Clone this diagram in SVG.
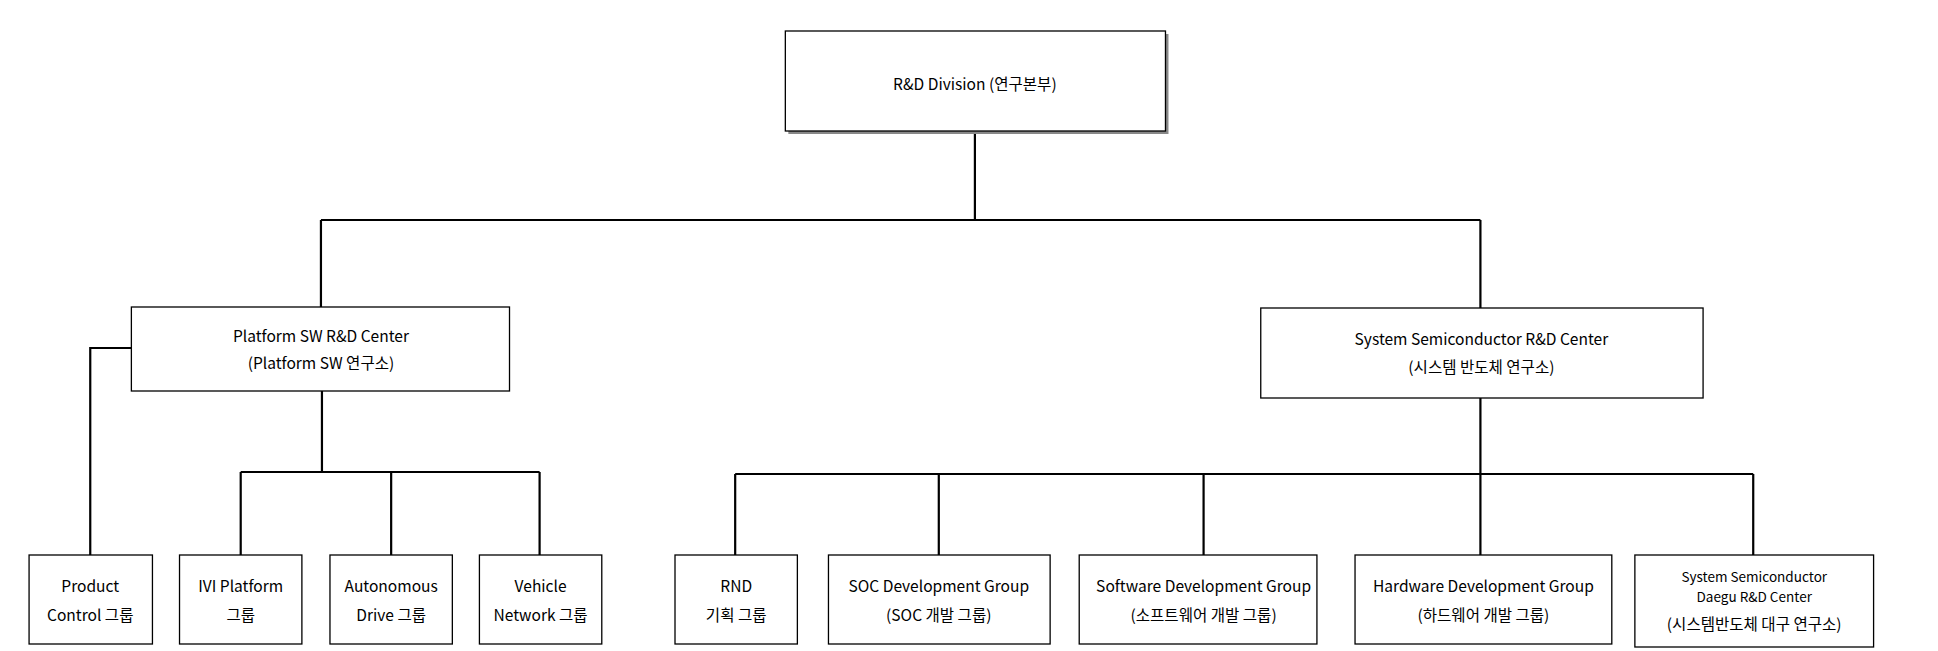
<svg xmlns="http://www.w3.org/2000/svg" width="1938" height="651" viewBox="0 0 1938 651">
<style>
.b{fill:#fff;stroke:#000;stroke-width:1.3}
.t{font-family:"Noto Sans CJK KR","Liberation Sans",sans-serif;font-size:15.5px;fill:#000;text-anchor:middle}
.s{font-size:13.5px}
.c{fill:none;stroke:#000;stroke-width:2.2}
</style>
<rect width="1938" height="651" fill="#fff"/>
<g transform="translate(5,0) scale(1.003,1)">
<g id="connectors">
<path class="c" d="M967 131V220M315 220H1471M315 220V307M1471 220V308"/>
<path class="c" d="M316 391V472M235 472H533M235 472V555M385 472V555M533 472V555M126 348H85V555"/>
<path class="c" d="M1471 398V474M728 474H1743M728 474V555M931 474V555M1195 474V555M1471 474V555M1743 474V555"/>
</g>
<g id="n-root"><rect x="781" y="34" width="379" height="100" fill="#888"/><rect class="b" x="778" y="31" width="379" height="100"/><text class="t" x="967" y="90">R&amp;D Division (연구본부)</text></g>
<g id="n-platform"><rect class="b" x="126" y="307" width="377" height="84"/><text class="t" x="315" y="342">Platform SW R&amp;D Center</text><text class="t" x="315" y="369">(Platform SW 연구소)</text></g>
<g id="n-system"><rect class="b" x="1252" y="308" width="441" height="90"/><text class="t" x="1472" y="345">System Semiconductor R&amp;D Center</text><text class="t" x="1472" y="373">(시스템 반도체 연구소)</text></g>
<g id="n-product"><rect class="b" x="24" y="555" width="123" height="89"/><text class="t" x="85" y="592">Product</text><text class="t" x="85" y="621">Control 그룹</text></g>
<g id="n-ivi"><rect class="b" x="174" y="555" width="122" height="89"/><text class="t" x="235" y="592">IVI Platform</text><text class="t" x="235" y="621">그룹</text></g>
<g id="n-auto"><rect class="b" x="324" y="555" width="122" height="89"/><text class="t" x="385" y="592">Autonomous</text><text class="t" x="385" y="621">Drive 그룹</text></g>
<g id="n-vehicle"><rect class="b" x="473" y="555" width="122" height="89"/><text class="t" x="534" y="592">Vehicle</text><text class="t" x="534" y="621">Network 그룹</text></g>
<g id="n-rnd"><rect class="b" x="668" y="555" width="122" height="89"/><text class="t" x="729" y="592">RND</text><text class="t" x="729" y="621">기획 그룹</text></g>
<g id="n-soc"><rect class="b" x="821" y="555" width="221" height="89"/><text class="t" x="931" y="592">SOC Development Group</text><text class="t" x="931" y="621">(SOC 개발 그룹)</text></g>
<g id="n-sw"><rect class="b" x="1071" y="555" width="237" height="89"/><text class="t" x="1195" y="592">Software Development Group</text><text class="t" x="1195" y="621">(소프트웨어 개발 그룹)</text></g>
<g id="n-hw"><rect class="b" x="1346" y="555" width="256" height="89"/><text class="t" x="1474" y="592">Hardware Development Group</text><text class="t" x="1474" y="621">(하드웨어 개발 그룹)</text></g>
<g id="n-daegu"><rect class="b" x="1625" y="555" width="238" height="92"/><text class="t s" x="1744" y="582">System Semiconductor</text><text class="t s" x="1744" y="602">Daegu R&amp;D Center</text><text class="t" x="1744" y="630">(시스템반도체 대구 연구소)</text></g>
</g>
</svg>
